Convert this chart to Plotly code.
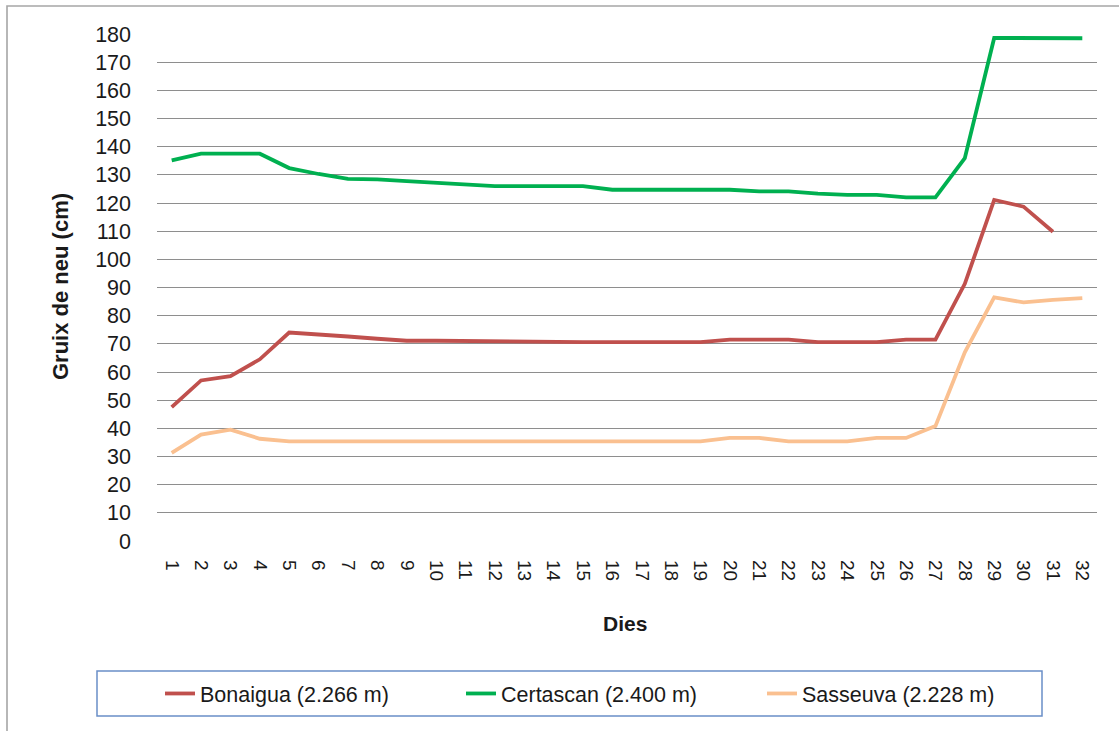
import plotly.graph_objects as go

days = list(range(1, 33))
day_labels = [str(d) for d in days]

bonaigua = [47.5, 57, 58.5, 64.5, 74, 73.4, 72.6, 71.8, 71.1, 71.1, 71, 70.6,
            70.6, 70.6, 70.6, 70.6, 70.6, 70.6, 70.6, 71.5, 71.5, 71.5, 70.6, 70.6,
            70.6, 71.5, 71.5, 91.3, 121.1, 118.7, 109.8, None]
certascan = [135.1, 137.5, 137.5, 137.5, 132.4, 130.3, 128.6, 128.4, 127.8, 127.2, 126.5, 126,
             126, 126, 126, 124.7, 124.7, 124.7, 124.7, 124.7, 124.1, 124.1, 123.3, 122.9,
             122.9, 122, 122, 135.9, 178.6, 178.6, 178.6, 178.5]
sasseuva = [31.3, 37.8, 39.5, 36.3, 35.4, 35.4, 35.4, 35.4, 35.4, 35.4, 35.4, 35.4,
            35.4, 35.4, 35.4, 35.4, 35.4, 35.4, 35.4, 36.6, 36.6, 35.4, 35.4, 35.4,
            36.6, 36.6, 40.8, 67, 86.5, 84.7, 85.6, 86.2]

series_names = ["Bonaigua (2.266 m)", "Certascan (2.400 m)", "Sasseuva (2.228 m)"]
series_colors = ["#C0504D", "#00B050", "#FAC090"]
y_ticks = list(range(0, 181, 10))

W, H = 1119, 731
L, R, T, B = 157, 1097, 34, 541


def px(x):
    return (x - L) / (R - L)


def py(y):
    return (B - y) / (B - T)


FONT = "Liberation Sans, Arial, sans-serif"

fig = go.Figure()
for name, vals, col in zip(series_names, [bonaigua, certascan, sasseuva], series_colors):
    fig.add_trace(go.Scatter(x=days, y=vals, name=name, mode="lines",
                             line=dict(color=col, width=3.8), connectgaps=False))

fig.update_layout(
    width=W, height=H,
    margin=dict(l=L, r=W - R, t=T, b=H - B, autoexpand=False),
    paper_bgcolor="white", plot_bgcolor="white",
    font=dict(family=FONT, color="#1a1a1a", size=20),
    showlegend=True,
    legend=dict(orientation="h", x=px(160), xanchor="left", y=py(693.5), yanchor="middle",
                bgcolor="rgba(0,0,0,0)", borderwidth=0,
                font=dict(family=FONT, size=21.5, color="#1a1a1a"),
                entrywidth=256, entrywidthmode="pixels", tracegroupgap=0),
    xaxis=dict(range=[0.5, 32.5], tickmode="array", tickvals=days, ticktext=day_labels,
               tickangle=90, showgrid=False, zeroline=False, showline=False,
               ticks="", ticklabelstandoff=18, tickfont=dict(size=19, family=FONT)),
    yaxis=dict(range=[0, 180], tickmode="array", tickvals=y_ticks,
               showgrid=True, gridcolor="#8E8E8E", gridwidth=1.3, zeroline=False,
               showline=False, ticks="", ticklabelstandoff=25,
               tickfont=dict(size=21.5, family=FONT)),
    shapes=[
        dict(type="rect", xref="paper", yref="paper", x0=px(7), x1=px(1130), y0=py(745), y1=py(6),
             line=dict(color="#A6A6A6", width=1.6), fillcolor="rgba(0,0,0,0)", layer="below"),
        dict(type="rect", xref="paper", yref="paper", x0=px(97), x1=px(1042), y0=py(716), y1=py(671),
             line=dict(color="#6A8FC8", width=1.5), fillcolor="rgba(0,0,0,0)"),
    ],
    annotations=[
        dict(text="<b>Gruix de neu (cm)</b>", xref="paper", yref="paper", x=px(60), y=py(287),
             textangle=-90, showarrow=False, font=dict(size=22, family=FONT, color="#1a1a1a"),
             xanchor="center", yanchor="middle"),
        dict(text="<b>Dies</b>", xref="paper", yref="paper", x=px(625), y=py(623),
             showarrow=False, font=dict(size=21, family=FONT, color="#1a1a1a"),
             xanchor="center", yanchor="middle"),
    ],
)

fig.write_html("out.html", config={"displayModeBar": False},
               post_script="document.body.style.margin='0';document.body.style.padding='0';")
